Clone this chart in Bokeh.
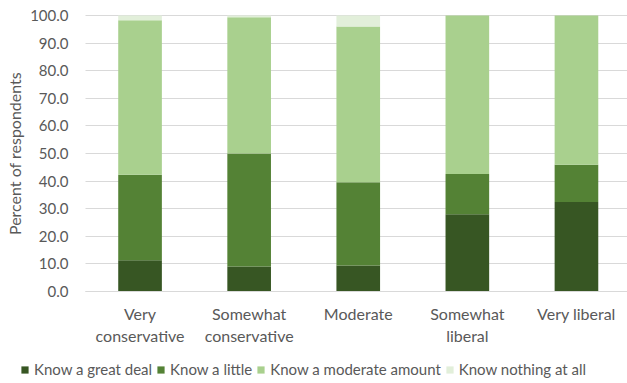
from bokeh.plotting import figure
from bokeh.models import ColumnDataSource, Range1d, FixedTicker, Legend, LegendItem
from bokeh.embed import file_html
from bokeh.resources import INLINE

# Political leaning groups (x categories)
groups = ["Very\nconservative", "Somewhat\nconservative", "Moderate",
          "Somewhat\nliberal", "Very liberal"]

# Percent of respondents per knowledge level, one list per series
great_deal = [11.3, 9.1, 9.4, 28.0, 32.4]
a_little = [31.0, 40.9, 30.2, 14.6, 13.5]
moderate_amount = [56.0, 49.4, 56.4, 57.4, 54.1]
nothing_at_all = [1.7, 0.6, 4.0, 0.0, 0.0]

series_names = ["Know a great deal", "Know a little",
                "Know a moderate amount", "Know nothing at all"]
series_keys = ["great_deal", "a_little", "moderate_amount", "nothing_at_all"]
series_colors = ["#375623", "#548235", "#A9D08E", "#E2EFDA"]

y_ticks = [0, 10, 20, 30, 40, 50, 60, 70, 80, 90, 100]

FONT = "Lato"
TEXT_COLOR = "#595959"
GRID_COLOR = "#D9D9D9"

W, H = 627, 383
# Plotting area in pixels: left edge, top (value 100) and bottom (value 0)
AREA_LEFT, AREA_TOP, AREA_BOTTOM = 85, 15, 291
SLOT = 109.1                                    # px per category
PX_PER_UNIT = (AREA_BOTTOM - AREA_TOP) / 100.0  # px per percentage point

# The frame covers the whole canvas so the legend row and the axis texts
# live inside it; the axes are pinned to the data origin.
x_lo = -0.5 - AREA_LEFT / SLOT
x_hi = -0.5 + (W - AREA_LEFT) / SLOT
y_lo = -(H - AREA_BOTTOM) / PX_PER_UNIT
y_hi = 100 + AREA_TOP / PX_PER_UNIT

source = ColumnDataSource(data=dict(
    x=list(range(len(groups))),
    great_deal=great_deal,
    a_little=a_little,
    moderate_amount=moderate_amount,
    nothing_at_all=nothing_at_all,
))

p = figure(width=W, height=H, output_backend="svg", toolbar_location=None,
           x_range=Range1d(x_lo, x_hi), y_range=Range1d(y_lo, y_hi),
           min_border=0, outline_line_color=None)

renderers = p.vbar_stack(series_keys, x="x", width=0.4, source=source,
                         color=series_colors, line_color=None)

# Value axis along the left edge of the category slots
p.yaxis.fixed_location = -0.5
p.yaxis.bounds = (0, 100)
p.yaxis.ticker = FixedTicker(ticks=y_ticks)
p.yaxis.major_label_overrides = {t: f"{t:.1f}" for t in y_ticks}
p.yaxis.axis_line_color = None
p.yaxis.major_tick_line_color = None
p.yaxis.major_tick_out = 0
p.yaxis.major_tick_in = 0
p.yaxis.minor_tick_line_color = None
p.yaxis.major_label_standoff = 17
p.yaxis.major_label_text_font = FONT
p.yaxis.major_label_text_font_size = "15px"
p.yaxis.major_label_text_color = TEXT_COLOR
p.yaxis.axis_label = "Percent of respondents"
p.yaxis.axis_label_text_font = FONT
p.yaxis.axis_label_text_font_size = "16px"
p.yaxis.axis_label_text_font_style = "normal"
p.yaxis.axis_label_text_color = TEXT_COLOR
p.yaxis.axis_label_standoff = 3

# Category axis along y = 0
p.xaxis.fixed_location = 0
p.xaxis.bounds = (-0.5, x_hi)
p.xaxis.ticker = FixedTicker(ticks=list(range(len(groups))))
p.xaxis.major_label_overrides = {i: g for i, g in enumerate(groups)}
p.xaxis.axis_line_color = GRID_COLOR
p.xaxis.major_tick_line_color = None
p.xaxis.major_tick_out = 0
p.xaxis.major_tick_in = 0
p.xaxis.minor_tick_line_color = None
p.xaxis.major_label_standoff = 12
p.xaxis.major_label_text_font = FONT
p.xaxis.major_label_text_font_size = "16px"
p.xaxis.major_label_text_color = TEXT_COLOR

p.xgrid.grid_line_color = None
ygrid = p.ygrid[0]
ygrid.grid_line_color = GRID_COLOR
ygrid.grid_line_width = 1
if "cross_bounds" in ygrid.properties():
    ygrid.cross_bounds = (-0.5, x_hi)

# Legend in one row under the chart
items = [LegendItem(label=n, renderers=[r]) for n, r in zip(series_names, renderers)]
legend = Legend(items=items, orientation="horizontal", location=(20, 5),
                glyph_width=9, glyph_height=9, label_standoff=5, spacing=4,
                padding=0, margin=0, label_height=16,
                label_text_font=FONT, label_text_font_size="15px",
                label_text_color=TEXT_COLOR,
                background_fill_alpha=0, border_line_color=None)
p.add_layout(legend, "center")

open("out.html", "w").write(file_html(p, INLINE))
